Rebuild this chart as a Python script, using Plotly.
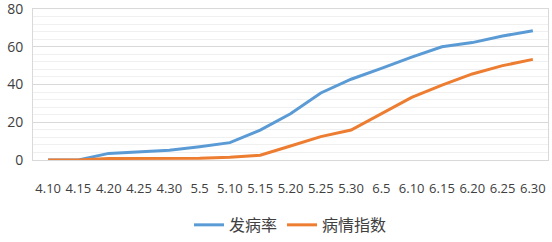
import plotly.graph_objects as go

categories = ["4.10", "4.15", "4.20", "4.25", "4.30", "5.5", "5.10", "5.15", "5.20",
              "5.25", "5.30", "6.5", "6.10", "6.15", "6.20", "6.25", "6.30"]
incidence = [0, 0, 3.5, 4.3, 5.1, 7.0, 9.2, 15.8, 24.5, 35.5, 42.8, 48.5, 54.5, 60.0, 62.2, 65.7, 68.5]
severity = [0, 0, 0.8, 0.8, 0.8, 0.9, 1.5, 2.5, 7.4, 12.4, 15.9, 24.4, 33.2, 39.7, 45.6, 50.0, 53.3]
y_ticks = [0, 20, 40, 60, 80]

fig = go.Figure()
fig.add_trace(go.Scatter(x=categories, y=incidence, mode="lines", name="发病率",
                         line=dict(color="#5B9BD5", width=3)))
fig.add_trace(go.Scatter(x=categories, y=severity, mode="lines", name="病情指数",
                         line=dict(color="#ED7D31", width=3)))

fig.update_layout(
    width=552, height=242,
    margin=dict(l=33, r=4, t=9, b=82, autoexpand=False),
    paper_bgcolor="white", plot_bgcolor="white",
    font=dict(family="Open Sans, Noto Sans CJK SC", size=13, color="#404040"),
    showlegend=True,
    legend=dict(orientation="h", x=0.5, xanchor="center", y=-0.43, yanchor="middle",
                font=dict(family="Noto Sans CJK SC", size=16, color="#404040"),
                itemwidth=30),
)
fig.update_xaxes(type="category", range=[-0.5, 16.5], showgrid=False, showline=True,
                 linecolor="#D9D9D9", mirror=True, ticks="", ticklabelstandoff=16,
                 automargin=False, tickfont=dict(size=13, color="#404040"))
fig.update_yaxes(range=[-0.01, 80.01], tickvals=y_ticks, showgrid=True, gridcolor="#D9D9D9",
                 gridwidth=1, showline=True, linecolor="#D9D9D9", mirror=True,
                 zeroline=False, ticks="", ticklabelstandoff=6, automargin=False,
                 ticklabeloverflow="allow",
                 minor=dict(dtick=4, showgrid=True, gridcolor="#F0F0F0", gridwidth=1),
                 tickfont=dict(size=14, color="#404040"))

fig.write_html("out.html", config={"displayModeBar": False},
               post_script="document.body.style.margin='0';document.body.style.overflow='hidden';")
